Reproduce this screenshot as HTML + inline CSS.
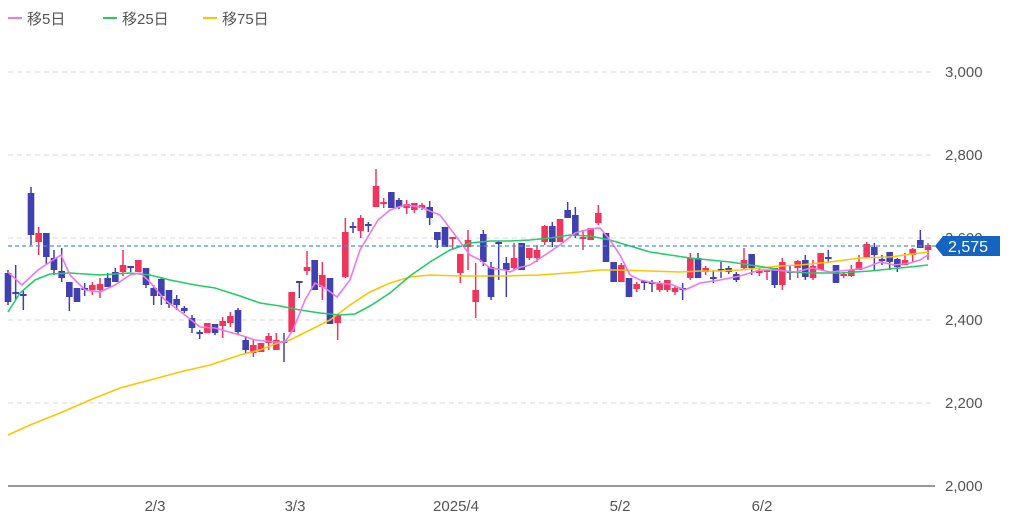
<!DOCTYPE html>
<html><head><meta charset="utf-8">
<style>
body{margin:0;background:#fff;width:1024px;height:522px;overflow:hidden;font-family:"Liberation Sans","Noto Sans CJK JP",sans-serif;}
svg{display:block}
</style></head><body>
<svg id="c" width="1024" height="522" xmlns="http://www.w3.org/2000/svg" font-family="Liberation Sans, Noto Sans CJK JP, sans-serif">
<g stroke="#d8d8d8" stroke-dasharray="5,4" stroke-width="1">
<line x1="8" y1="72" x2="935" y2="72"/><line x1="8" y1="155" x2="935" y2="155"/>
<line x1="8" y1="238" x2="935" y2="238"/><line x1="8" y1="320" x2="935" y2="320"/>
<line x1="8" y1="403" x2="935" y2="403"/>
</g>
<line x1="8" y1="486" x2="935" y2="486" stroke="#333" stroke-width="1"/>
<g fill="#555" font-size="15">
<text x="945" y="77">3,000</text><text x="945" y="160">2,800</text><text x="945" y="243">2,600</text>
<text x="945" y="325">2,400</text><text x="945" y="408">2,200</text><text x="945" y="491">2,000</text>
</g>
<g fill="#555" font-size="15" text-anchor="middle">
<text x="155" y="511">2/3</text><text x="295" y="511">3/3</text><text x="456" y="511">2025/4</text>
<text x="620" y="511">5/2</text><text x="762" y="511">6/2</text>
</g>
<g font-size="15" fill="#555">
<line x1="8" y1="18" x2="22" y2="18" stroke="#ee77ee" stroke-width="2"/><text x="27" y="24">移5日</text>
<line x1="103" y1="18" x2="117" y2="18" stroke="#22cc66" stroke-width="2"/><text x="122" y="24">移25日</text>
<line x1="203" y1="18" x2="217" y2="18" stroke="#ffc400" stroke-width="2"/><text x="222" y="24">移75日</text>
</g>
<g id="cd"></g>
<g id="ln"></g>
<line x1="8" y1="246" x2="935" y2="246" stroke="#4a90d9" stroke-dasharray="4,3" stroke-width="1.2"/>
<path d="M935 246 L943 236 L1000 236 L1000 256 L943 256 Z" fill="#1565c0"/>
<text x="948" y="252" fill="#fff" font-size="16">2,575</text>
</svg>
<script>
var R='#f0355c',B='#4040b0';
// [bodyTop, bodyBottom, wickTop, wickBottom, color]
var c=[
[273,302,270,305,B],[292,294,265,300,B],[294,296,290,310,B],[193,235,187,245,B],[233,242,227,255,R],[233,257,248,265,B],[258,270,250,275,B],[271,278,248,282,B],
[282,297,282,311,B],[288,302,288,302,B],[288,290,283,296,B],[285,290,282,295,R],[284,290,278,298,R],[278,287,273,287,B],[272,282,268,282,B],[265,272,250,276,R],
[266,268,266,272,B],[260,272,260,272,R],[268,285,268,288,B],[288,296,285,305,B],[279,296,277,305,B],[290,304,290,308,B],[299,305,295,310,B],[308,311,306,313,B],
[318,328,315,333,B],[332,334,330,339,B],[323,333,323,333,R],[324,333,324,335,B],[321,326,317,338,R],[316,323,312,327,R],[310,332,308,335,B],[340,350,336,354,B],
[345,353,340,357,R],[343,352,343,352,R],[336,343,333,350,R],[340,350,333,350,R],[341,343,333,362,B],[292,332,292,332,R],[281,283,281,298,B],[267,271,251,275,R],
[260,290,260,290,B],[275,287,262,300,R],[278,324,278,324,B],[315,323,315,340,R],[232,277,218,278,R],[226,228,222,233,B],[218,231,215,238,R],[224,226,222,232,B],
[186,207,169,207,R],[202,204,198,208,R],[192,208,192,208,B],[200,207,198,209,B],[204,208,200,214,R],[203,210,203,213,R],[205,208,203,210,R],[207,218,201,225,B],
[232,240,232,248,B],[227,247,227,247,B],[237,239,237,250,R],[254,273,254,283,R],[240,247,230,270,R],[290,302,263,318,R],[234,262,230,266,B],[267,297,262,300,B],
[242,244,241,280,B],[263,270,257,297,B],[258,268,243,270,R],[243,270,243,270,B],[248,258,248,260,R],[250,258,245,262,R],[226,242,225,245,R],[226,242,222,247,B],
[219,242,219,242,R],[210,218,202,218,B],[215,236,207,238,B],[237,239,230,250,R],[228,240,228,240,R],[213,223,205,225,R],[233,262,233,262,B],[262,282,262,282,B],
[265,282,263,282,R],[278,297,278,297,B],[284,289,282,292,R],[281,283,280,290,B],[282,284,280,292,B],[283,290,281,292,R],[280,290,280,292,R],[288,292,286,295,R],
[288,290,283,300,B],[258,278,253,280,R],[258,278,253,278,B],[268,272,266,275,R],[277,279,270,283,B],[269,271,262,278,B],[268,272,266,274,B],[274,280,272,282,B],
[260,268,248,270,R],[254,268,254,275,B],[271,273,268,276,R],[270,272,270,280,R],[268,285,268,288,B],[262,285,258,290,R],[271,273,265,280,B],[261,268,260,278,R],
[260,277,255,280,B],[266,278,260,280,R],[253,270,253,270,R],[257,259,250,263,B],[265,283,265,283,B],[274,276,272,278,R],[270,276,265,277,R],[262,270,255,270,R],
[244,257,242,257,R],[247,255,243,270,B],[259,261,255,265,B],[252,262,252,270,B],[259,267,258,272,B],[260,265,253,265,R],[249,255,248,263,R],[240,248,230,248,B],
[245,250,243,260,R]];
var n=c.length,s='',x0=8,x1=928;
for(var i=0;i<n;i++){var x=x0+i*(x1-x0)/(n-1),d=c[i];
s+='<line x1="'+x+'" x2="'+x+'" y1="'+d[2]+'" y2="'+d[3]+'" stroke="'+d[4]+'" stroke-width="1.5"/>';
var h=Math.max(d[1]-d[0],2);s+='<rect x="'+(x-3.3)+'" y="'+d[0]+'" width="6.6" height="'+h+'" fill="'+d[4]+'"/>';}
document.getElementById('cd').innerHTML=s;
function pl(p,col){return '<polyline fill="none" stroke="'+col+'" stroke-width="1.6" points="'+p+'"/>';}
var m5="8,272 22,285 38,270 53,260 61,255 70,275 85,290 100,292 115,285 130,275 140,273 150,282 165,300 185,315 200,327 215,328 240,335 255,340 275,342 285,342 293,330 305,300 315,283 325,288 337,297 350,280 360,250 378,220 390,210 405,205 420,207 440,215 455,235 470,255 480,260 490,268 505,270 510,272 518,268 530,265 545,255 560,245 575,233 590,229 600,228 610,240 620,255 630,275 640,280 655,283 670,284 685,290 700,283 720,280 740,276 760,270 775,270 795,272 812,268 830,272 850,270 865,268 880,262 895,265 910,263 920,260 928,255";
var m25="8,312 20,293 35,280 50,274 70,273 100,275 130,273 150,275 170,280 195,285 215,288 240,296 260,303 280,306 300,310 320,313 340,315 355,314 370,306 390,293 410,276 430,262 450,250 470,243 490,241 510,241 530,240 550,238 570,235 590,236 610,240 630,246 650,252 670,255 690,258 710,260 730,262 750,265 770,268 790,272 810,273 840,273 870,271 900,268 928,265";
var m75="8,435 30,425 60,413 90,400 120,388 150,380 180,372 210,365 240,355 260,350 275,344 290,340 310,330 330,320 350,305 370,292 390,283 410,277 430,275 460,276 500,276 540,275 580,272 600,270 620,270 650,271 680,272 700,271 720,271 740,270 760,268 780,266 800,265 830,262 860,258 890,257 928,252";
document.getElementById('ln').innerHTML=pl(m75,'#ffc400')+pl(m25,'#22cc66')+pl(m5,'#ee77ee');
</script>
</body></html>
